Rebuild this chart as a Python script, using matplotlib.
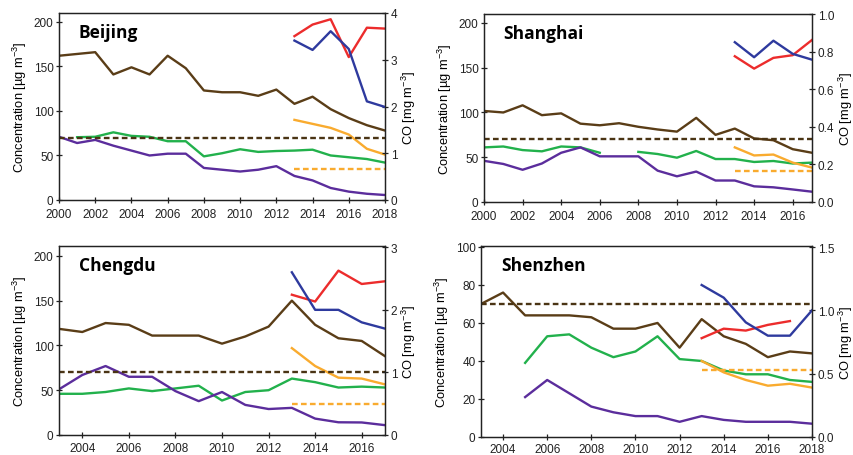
import matplotlib
matplotlib.use('Agg')
import matplotlib.pyplot as plt
import numpy as np

plt.rcParams['font.family'] = ['Liberation Sans', 'DejaVu Sans']
plt.rcParams['mathtext.default'] = 'regular'

# Data (NaN = no data)
nan = np.nan

bj_years = list(range(2000, 2019))
bj_pm10 = [162, 164, 166, 141, 149, 141, 162, 148, 123, 121, 121, 117, 124, 108, 116, 102, 92, 84, 78]
bj_no2 = [nan, 70.5, 71, 76, 72, 71, 66, 66, 49, 52.5, 57, 54, 55, 55.5, 56.5, 50, 48, 46, 42]
bj_so2 = [71, 64, 67.5, 61, 55.5, 50, 52, 52, 36, 34, 32, 34, 38, 27, 22, 13.5, 9.4, 7, 5.6]
bj_pm25 = [nan] * 13 + [90, 85.5, 81, 73.5, 57.5, 51]
bj_o3 = [nan] * 13 + [184, 197, 203, 160.5, 193.5, 192.5]
bj_co = [nan] * 13 + [3.41, 3.21, 3.61, 3.23, 2.11, 1.99]

sh_years = list(range(2000, 2018))
sh_pm10 = [101.7, 100, 108, 97, 99, 87.5, 85.7, 88, 84, 81, 78.6, 94, 75, 82, 71, 69, 59, 55]
sh_no2 = [61, 62, 58, 56.6, 62, 61, 55, nan, 56, 53.6, 49.5, 57, 48, 48, 44.7, 45.8, 43, 44]
sh_so2 = [46, 42.5, 36, 43, 55, 61, 51, 51, 51, 35, 28.7, 34, 24, 24, 17.5, 16.4, 14, 11.5]
sh_pm25 = [nan] * 13 + [61, 52, 53, 44, 38.4]
sh_o3 = [nan] * 13 + [162.8, 149, 161, 164, 181]
sh_co = [nan] * 13 + [0.85, 0.77, 0.858, 0.788, 0.757]

cd_years = list(range(2003, 2018))
cd_pm10 = [118.5, 115, 125, 123, 111, 111, 111, 102, 110, 121, 150, 123, 108, 105, 88]
cd_no2 = [46, 46, 48, 52, 49, 52, 55, 38.5, 48, 50, 63, 59, 53, 54, 53]
cd_so2 = [51, 67, 77, 65, 65, 49, 37.8, 48, 33.6, 29, 30.3, 18.3, 14.2, 14, 11]
cd_pm25 = [nan] * 10 + [97, 77, 64, 63, 56.5]
cd_o3 = [nan] * 10 + [156.6, 149, 183.5, 168.6, 171.6]
cd_co = [nan] * 10 + [2.6, 2.0, 2.0, 1.8, 1.7]

sz_years = list(range(2003, 2019))
sz_pm10 = [70, 76, 64, 64, 64, 63, 57, 57, 60, 47, 62, 53, 49, 42, 45, 44]
sz_no2 = [nan, nan, 39, 53, 54, 47, 42, 45, 53, 41, 40, 35, 33, 33, 30, 29]
sz_so2 = [nan, nan, 21, 30, 23, 16, 13, 11, 11, 8, 11, 9, 8, 8, 8, 7]
sz_pm25 = [nan] * 10 + [40, 34, 30, 27, 28, 26]
sz_o3 = [nan] * 10 + [52, 57, 56, 59, 61, nan]
sz_co = [nan] * 10 + [1.2, 1.1, 0.905, 0.8, 0.8, 1.0]

pm10_std = 70
pm25_std = 35

c_pm10 = '#5a3d17'
c_no2 = '#22b14c'
c_so2 = '#5b2d9c'
c_pm25 = '#f9ab2f'
c_o3 = '#ec2c2c'
c_co = '#2e3a9e'
c_dash = '#4a3414'

fig = plt.figure(figsize=(8.54, 4.56), dpi=100)

panels = [
    # name, years, pm10, no2, so2, pm25, o3, co, left ylim, left ticks, right ylim, right ticks, xticks, rect
    ('Beijing', bj_years, bj_pm10, bj_no2, bj_so2, bj_pm25, bj_o3, bj_co,
     (0, 210), [0, 50, 100, 150, 200], (0, 4), [0, 1, 2, 3, 4], '%d',
     list(range(2000, 2019, 2)), [59, 14, 385, 201], 3.5),
    ('Shanghai', sh_years, sh_pm10, sh_no2, sh_so2, sh_pm25, sh_o3, sh_co,
     (0, 210), [0, 50, 100, 150, 200], (0, 1.0), [0, 0.2, 0.4, 0.6, 0.8, 1.0], '%.1f',
     list(range(2000, 2017, 2)), [484, 15, 812, 203], 3.5),
    ('Chengdu', cd_years, cd_pm10, cd_no2, cd_so2, cd_pm25, cd_o3, cd_co,
     (0, 211), [0, 50, 100, 150, 200], (0, 3.02), [0, 1, 2, 3], '%d',
     list(range(2004, 2017, 2)), [59, 247, 385, 436], 2.5),
    ('Shenzhen', sz_years, sz_pm10, sz_no2, sz_so2, sz_pm25, sz_o3, sz_co,
     (0, 100.5), [0, 20, 40, 60, 80, 100], (0, 1.508), [0, 0.5, 1.0, 1.5], '%.1f',
     list(range(2004, 2019, 2)), [481, 247, 812, 438], 1.5),
]

W, H = 854, 456
lw = 1.7

for (name, years, pm10, no2, so2, pm25, o3, co, ylim, yticks, ylim2, yticks2, fmt2,
     xticks, (x0, y0, x1, y1), xpad) in panels:
    ax = fig.add_axes([x0 / W, 1 - y1 / H, (x1 - x0) / W, (y1 - y0) / H])
    ax2 = ax.twinx()
    yrs = np.array(years)
    ax.plot(yrs, pm10, color=c_pm10, lw=lw)
    ax.plot(yrs, no2, color=c_no2, lw=lw)
    ax.plot(yrs, so2, color=c_so2, lw=lw)
    ax.plot(yrs, pm25, color=c_pm25, lw=lw)
    ax.plot(yrs, o3, color=c_o3, lw=lw)
    ax2.plot(yrs, co, color=c_co, lw=lw)
    ax.plot([yrs[0], yrs[-1]], [pm10_std, pm10_std], color=c_dash, lw=1.7, ls=(0, (2.4, 1.4)))
    first = np.where(~np.isnan(np.array(pm25, dtype=float)))[0][0]
    ax.plot([yrs[first], yrs[-1]], [pm25_std, pm25_std], color=c_pm25, lw=1.7, ls=(0, (2.4, 1.4)))

    ax.set_xlim(yrs[0], yrs[-1])
    ax.set_ylim(*ylim)
    ax.set_yticks(yticks)
    ax2.set_ylim(*ylim2)
    ax2.set_yticks(yticks2)
    ax2.set_yticklabels([fmt2 % v for v in yticks2])
    ax.set_xticks(xticks)

    for a in (ax, ax2):
        a.tick_params(direction='inout', length=5, width=0.9, labelsize=8.5, pad=1.5, colors='#222222')
        for s in a.spines.values():
            s.set_linewidth(0.9)
            s.set_color('#222222')
    ax.tick_params(axis='x', pad=xpad)

    ax.set_ylabel('Concentration [µg m$^{-3}$]', fontsize=9.3, labelpad=3)
    ax2.set_ylabel('CO [mg m$^{-3}$]', fontsize=9.3, labelpad=2)
    ax.text(0.06, 0.9, name, transform=ax.transAxes, ha='left', va='center',
            fontsize=12.5, fontweight='bold', family=['Open Sans', 'DejaVu Sans'])

plt.savefig('out.png', dpi=100, facecolor='white')
